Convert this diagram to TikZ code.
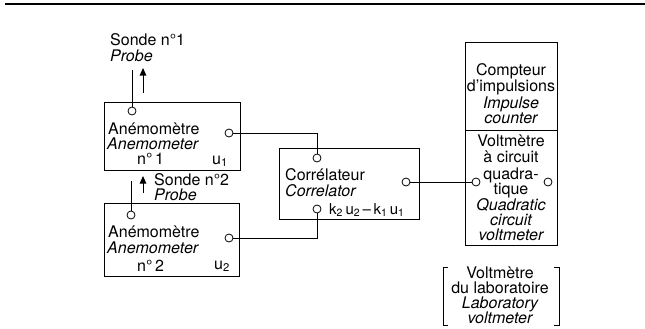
\documentclass[tikz,border=0pt]{standalone}
\usepackage{fontspec}
\setmainfont{TeX Gyre Heros}
\usetikzlibrary{arrows.meta}
\begin{document}
\begin{tikzpicture}[x=1pt,y=-1pt,
  box/.style={draw, line width=0.9pt, rectangle, inner sep=0pt},
  port/.style={draw, circle, line width=0.8pt, minimum size=8pt, inner sep=0pt, fill=white},
  wire/.style={line width=0.8pt},
  probearrow/.style={line width=1pt, -{Triangle[length=7.5pt,width=6.5pt]}},
  lbl/.style={inner sep=0pt, anchor=base, font=\fontsize{16}{17}\selectfont},
  lblw/.style={lbl, anchor=base west},
  it/.style={font=\fontsize{16}{17}\selectfont\itshape}
]
\useasboundingbox (0,0) rectangle (645,329);
% top rule
\coordinate (r0) at (5,4);
\coordinate (r1) at (645,4);
\draw[line width=2.2pt] (r0) -- (r1);

% ---- Anemometer 1
\node[box, minimum width=136pt, minimum height=68pt] (a1) at (172,136) {};
\node[port] (a1t) at (132,111) {};
\node[port] (a1r) at (229,133) {};
\node[lblw] (a1l1) at (108,134) {Anémomètre};
\node[lblw,it] (a1l2) at (107,149) {Anemometer};
\node[lblw] (a1l3) at (137,164) {n°\,1};
\node[lblw] (a1u) at (212,164) {u\textsubscript{1}};
\coordinate (p1) at (132,70);
\draw[wire] (a1t.north) -- (p1);
\coordinate (ar1s) at (143,93);
\coordinate (ar1e) at (143,68);
\draw[probearrow] (ar1s) -- (ar1e);
\node[lblw] (s1) at (110,46) {Sonde n°1};
\node[lblw,it] (s1p) at (110,62) {Probe};

% ---- Anemometer 2
\node[box, minimum width=135pt, minimum height=73pt] (a2) at (171.5,239.5) {};
\node[port] (a2t) at (131,215) {};
\node[port] (a2r) at (229,238) {};
\node[lblw] (a2l1) at (108,237) {Anémomètre};
\node[lblw,it] (a2l2) at (107,253) {Anemometer};
\node[lblw] (a2l3) at (137,271) {n°\,2};
\node[lblw] (a2u) at (214,269) {u\textsubscript{2}};
\coordinate (p2) at (131,181);
\draw[wire] (a2t.north) -- (p2);
\coordinate (ar2s) at (143,193);
\coordinate (ar2e) at (143,176);
\draw[probearrow] (ar2s) -- (ar2e);
\node[lblw] (s2) at (154,185) {Sonde n°2};
\node[lblw,it] (s2p) at (154,200) {Probe};

% ---- Correlator
\node[box, minimum width=140pt, minimum height=71pt] (cor) at (349,183.5) {};
\node[port] (cort) at (317,158) {};
\node[port] (corb) at (317,209) {};
\node[port] (corr) at (406,182) {};
\node[lblw] (c1) at (285,180) {Corrélateur};
\node[lblw,it] (c2) at (285,196) {Correlator};
\node[lblw, font=\fontsize{15}{16}\selectfont] (c3) at (329,214) {k\textsubscript{2}\,u\textsubscript{2}\,–\,k\textsubscript{1}\,u\textsubscript{1}};

% ---- Counter / quadratic voltmeter
\node[box, minimum width=92pt, minimum height=88pt] (cnt) at (511,86) {};
\node[box, minimum width=92pt, minimum height=115pt] (vq) at (511,187.5) {};
\node[lbl] (k1) at (511,75) {Compteur};
\node[lbl] (k2) at (511,92) {d'impulsions};
\node[lbl,it] (k3) at (511,108) {Impulse};
\node[lbl,it] (k4) at (511,123) {counter};
\node[lbl] (v1) at (511,146) {Voltmètre};
\node[lbl] (v2) at (511,162) {à circuit};
\node[lbl] (v3) at (511,179) {quadra-};
\node[lbl] (v4) at (511,194) {tique};
\node[lbl,it] (v5) at (511,210) {Quadratic};
\node[lbl,it] (v6) at (511,225) {circuit};
\node[lbl,it] (v7) at (511,240) {voltmeter};
\node[port] (vl) at (476,182) {};
\node[port] (vr) at (548,182) {};

% ---- Laboratory voltmeter (bracketed)
\coordinate (bl1) at (448,267);
\coordinate (bl2) at (443,267);
\coordinate (bl3) at (443,325);
\coordinate (bl4) at (448,325);
\coordinate (br1) at (554,267);
\coordinate (br2) at (559,267);
\coordinate (br3) at (559,325);
\coordinate (br4) at (554,325);
\draw[wire] (bl1) -- (bl2) -- (bl3) -- (bl4);
\draw[wire] (br1) -- (br2) -- (br3) -- (br4);
\node[lbl] (l1) at (500,278) {Voltmètre};
\node[lbl] (l2) at (500,293) {du laboratoire};
\node[lbl,it] (l3) at (500,308) {Laboratory};
\node[lbl,it] (l4) at (500,323) {voltmeter};

% ---- connectors
\draw[wire] (a1r.east) -| (cort.north);
\draw[wire] (a2r.east) -| (corb.south);
\draw[wire] (corr.east) -- (vl.west);
\end{tikzpicture}
\end{document}
